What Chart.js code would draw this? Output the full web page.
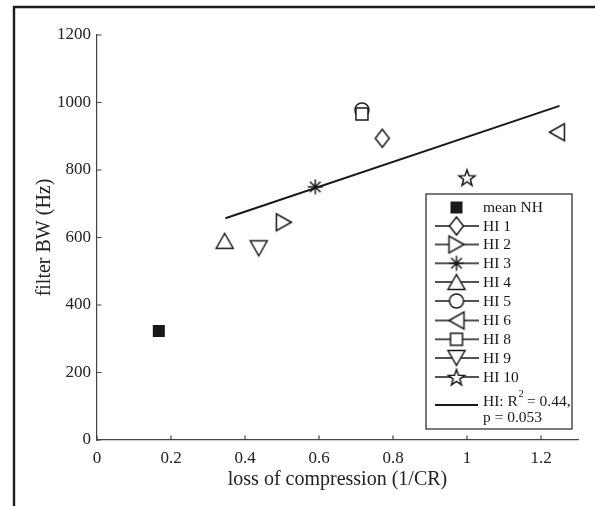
<!DOCTYPE html>
<html>
<head>
<meta charset="utf-8">
<script src="https://cdn.jsdelivr.net/npm/chart.js@4.4.0/dist/chart.umd.min.js"></script>
<style>
    html, body { margin: 0; padding: 0; background: #fff; }
    #wrap { position: relative; width: 595px; height: 506px; }
</style>
</head>
<body>
<div id="wrap"><canvas id="bwChart" width="595" height="506"></canvas></div>
<script>
// Data
const seriesLabels = ['mean NH', 'HI 1', 'HI 2', 'HI 3', 'HI 4', 'HI 5', 'HI 6', 'HI 8', 'HI 9', 'HI 10'];
const seriesMarkers = ['filledSquare', 'diamond', 'triRight', 'asterisk', 'triUp', 'circle', 'triLeft', 'square', 'triDown', 'pentagram'];
const lossOfCompression = [0.167, 0.771, 0.505, 0.59, 0.345, 0.716, 1.243, 0.716, 0.437, 1.0];
const filterBW = [323, 894, 645, 750, 590, 978, 912, 966, 568, 778];
const fitX = [0.347, 1.25];
const fitY = [657, 990];
const fitLabel = ['HI: R', '2', ' = 0.44,', 'p = 0.053'];
const xTicks = [0, 0.2, 0.4, 0.6, 0.8, 1, 1.2];
const yTicks = [0, 200, 400, 600, 800, 1000, 1200];

const INK = '#1a1718';
const AXIS = '#444';
const SERIF = '"Liberation Serif", "DejaVu Serif", serif';

// Build a MATLAB-like marker as a small canvas (optionally with the legend line through it)
function makeMarker(kind, withLine) {
    const w = withLine ? 44 : 24, h = 24;
    const c = document.createElement('canvas');
    c.width = w; c.height = h;
    const g = c.getContext('2d');
    const cx = w / 2, cy = h / 2;
    g.strokeStyle = INK;
    g.fillStyle = '#fff';
    g.lineWidth = 1.5;
    g.lineJoin = 'miter';
    if (withLine && kind !== 'filledSquare') {
        g.beginPath(); g.moveTo(0, cy); g.lineTo(w, cy); g.stroke();
    }
    g.beginPath();
    switch (kind) {
        case 'filledSquare':
            g.fillStyle = INK;
            g.fillRect(cx - 6, cy - 6, 12, 12);
            return c;
        case 'square':
            g.rect(cx - 6, cy - 6, 12, 12);
            break;
        case 'diamond':
            g.moveTo(cx, cy - 9); g.lineTo(cx + 7, cy); g.lineTo(cx, cy + 9); g.lineTo(cx - 7, cy); g.closePath();
            break;
        case 'triUp':
            g.moveTo(cx, cy - 7.5); g.lineTo(cx + 8.5, cy + 7.5); g.lineTo(cx - 8.5, cy + 7.5); g.closePath();
            break;
        case 'triDown':
            g.moveTo(cx, cy + 7.5); g.lineTo(cx + 8.5, cy - 7.5); g.lineTo(cx - 8.5, cy - 7.5); g.closePath();
            break;
        case 'triRight':
            g.moveTo(cx + 7.5, cy); g.lineTo(cx - 7.5, cy - 8.5); g.lineTo(cx - 7.5, cy + 8.5); g.closePath();
            break;
        case 'triLeft':
            g.moveTo(cx - 7.5, cy); g.lineTo(cx + 7.5, cy - 8.5); g.lineTo(cx + 7.5, cy + 8.5); g.closePath();
            break;
        case 'circle':
            g.arc(cx, cy, 7, 0, Math.PI * 2);
            break;
        case 'asterisk': {
            const r = 7.5, d = r * Math.SQRT1_2;
            g.moveTo(cx - r, cy); g.lineTo(cx + r, cy);
            g.moveTo(cx, cy - r); g.lineTo(cx, cy + r);
            g.moveTo(cx - d, cy - d); g.lineTo(cx + d, cy + d);
            g.moveTo(cx - d, cy + d); g.lineTo(cx + d, cy - d);
            g.stroke();
            return c;
        }
        case 'pentagram': {
            const ro = 8.5, ri = 3.5;
            for (let i = 0; i < 10; i++) {
                const r = i % 2 ? ri : ro;
                const a = -Math.PI / 2 + i * Math.PI / 5;
                const px = cx + r * Math.cos(a), py = cy + 1 + r * Math.sin(a);
                if (i === 0) g.moveTo(px, py); else g.lineTo(px, py);
            }
            g.closePath();
            break;
        }
    }
    g.fill();
    g.stroke();
    return c;
}

const markerImages = seriesMarkers.map(k => makeMarker(k, false));
const legendImages = seriesMarkers.map(k => makeMarker(k, true));

const n = seriesLabels.length;
const datasets = seriesLabels.map((label, i) => ({
    type: 'scatter',
    label: label,
    data: [{ x: lossOfCompression[i], y: filterBW[i] }],
    pointStyle: markerImages[i],
    pointRadius: 8,
    order: n - i
}));

datasets.push({
    type: 'line',
    label: fitLabel.join(''),
    data: fitX.map((x, i) => ({ x: x, y: fitY[i] })),
    borderColor: INK,
    borderWidth: 1.9,
    pointRadius: 0,
    fill: false,
    order: n + 1
});

// Outer figure frame (left and top edges only are visible in the crop)
const framePlugin = {
    id: 'frame',
    afterDraw(chart) {
        const ctx = chart.ctx;
        ctx.save();
        ctx.strokeStyle = '#1f1c1d';
        ctx.lineWidth = 2.4;
        ctx.beginPath();
        ctx.moveTo(14, 506);
        ctx.lineTo(14, 7);
        ctx.lineTo(595, 7);
        ctx.stroke();
        ctx.restore();
    }
};

// MATLAB style ticks pointing into the plot
const inwardTicks = {
    id: 'inwardTicks',
    afterDraw(chart) {
        const ctx = chart.ctx;
        const { left, bottom } = chart.chartArea;
        const xs = chart.scales.x, ys = chart.scales.y;
        ctx.save();
        ctx.strokeStyle = AXIS;
        ctx.lineWidth = 1.2;
        ctx.beginPath();
        xTicks.forEach(v => {
            const px = xs.getPixelForValue(v);
            ctx.moveTo(px, bottom); ctx.lineTo(px, bottom - 4.5);
        });
        yTicks.forEach(v => {
            const py = ys.getPixelForValue(v);
            ctx.moveTo(left, py); ctx.lineTo(left + 4.5, py);
        });
        ctx.stroke();
        ctx.restore();
    }
};

// Legend box inside the plot, like the original figure
const legendBox = {
    id: 'legendBox',
    afterDraw(chart) {
        const ctx = chart.ctx;
        const box = { x: 426, y: 194, w: 146, h: 235 };
        const rowY = [207.5, 226, 244.5, 263.3, 282, 301, 320.5, 339.3, 358, 377];
        const markX = 456.5, textX = 483;
        ctx.save();
        ctx.fillStyle = '#fff';
        ctx.fillRect(box.x, box.y, box.w, box.h);
        ctx.strokeStyle = '#333';
        ctx.lineWidth = 1.3;
        ctx.strokeRect(box.x, box.y, box.w, box.h);

        ctx.font = '15.5px ' + SERIF;
        ctx.fillStyle = INK;
        ctx.textBaseline = 'middle';
        ctx.textAlign = 'left';
        seriesLabels.forEach((label, i) => {
            const img = legendImages[i];
            ctx.drawImage(img, markX - img.width / 2, rowY[i] - img.height / 2);
            ctx.fillText(label, textX, rowY[i] + 0.5);
        });

        // regression entry
        const ly = 405;
        ctx.strokeStyle = INK;
        ctx.lineWidth = 1.9;
        ctx.beginPath();
        ctx.moveTo(435, ly); ctx.lineTo(478, ly);
        ctx.stroke();
        const t1y = 401.5;
        ctx.fillText(fitLabel[0], textX, t1y);
        let x = textX + ctx.measureText(fitLabel[0]).width;
        ctx.font = '10.5px ' + SERIF;
        ctx.fillText(fitLabel[1], x + 0.5, t1y - 7);
        x += ctx.measureText(fitLabel[1]).width;
        ctx.font = '15.5px ' + SERIF;
        ctx.fillText(fitLabel[2], x, t1y);
        ctx.fillText(fitLabel[3], textX, 418);
        ctx.restore();
    }
};

const tickFont = { family: SERIF, size: 17 };
const titleFont = { family: SERIF, size: 20 };

const ctx = document.getElementById('bwChart').getContext('2d');
const bwChart = new Chart(ctx, {
    type: 'scatter',
    data: { datasets: datasets },
    options: {
        responsive: false,
        animation: false,
        layout: { padding: { top: 35, right: 17, left: 0, bottom: 0 } },
        plugins: {
            legend: { display: false },
            tooltip: { enabled: false }
        },
        scales: {
            x: {
                type: 'linear',
                min: 0,
                max: 1.3,
                afterBuildTicks: s => { s.ticks = xTicks.map(v => ({ value: v })); },
                grid: { display: false, drawTicks: false },
                border: { display: true, color: AXIS, width: 1.2 },
                ticks: { font: tickFont, color: '#222', padding: 8, maxRotation: 0, callback: v => String(v) },
                title: { display: true, text: 'loss of compression (1/CR)', font: titleFont, color: '#222', padding: { top: 0, bottom: 14 } },
                afterFit: s => { s.height = 66; }
            },
            y: {
                type: 'linear',
                min: 0,
                max: 1200,
                afterBuildTicks: s => { s.ticks = yTicks.map(v => ({ value: v })); },
                grid: { display: false, drawTicks: false },
                border: { display: true, color: AXIS, width: 1.2 },
                ticks: { font: tickFont, color: '#222', padding: 6, callback: v => String(v) },
                title: { display: true, text: 'filter BW (Hz)', font: titleFont, color: '#222', padding: { top: 33, bottom: 0 } },
                afterFit: s => { s.width = 97; }
            }
        }
    },
    plugins: [framePlugin, inwardTicks, legendBox]
});
</script>
</body>
</html>
